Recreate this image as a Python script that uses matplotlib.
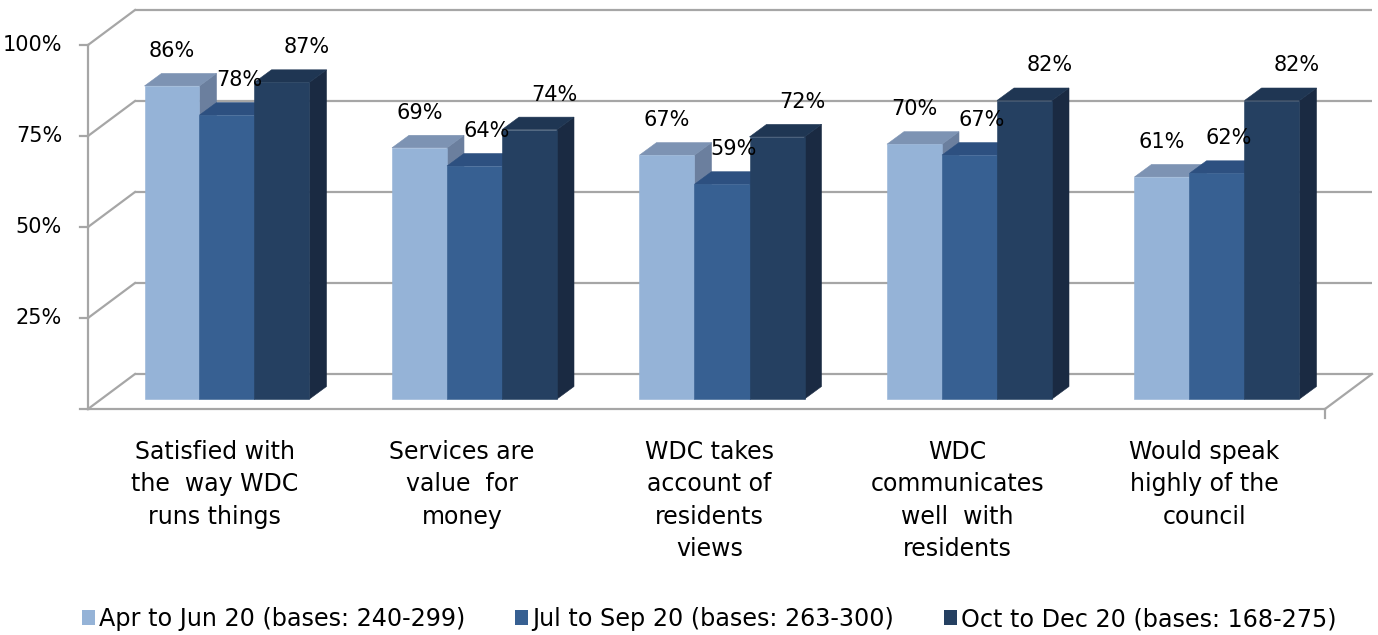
import matplotlib
matplotlib.use("Agg")
import matplotlib.pyplot as plt
from matplotlib.patches import Polygon, Patch

# ---------------- data ----------------
categories = [
    "Satisfied with\nthe  way WDC\nruns things",
    "Services are\nvalue  for\nmoney",
    "WDC takes\naccount of\nresidents\nviews",
    "WDC\ncommunicates\nwell  with\nresidents",
    "Would speak\nhighly of the\ncouncil",
]
series_names = [
    "Apr to Jun 20 (bases: 240-299)",
    "Jul to Sep 20 (bases: 263-300)",
    "Oct to Dec 20 (bases: 168-275)",
]
apr_jun = [86, 69, 67, 70, 61]
jul_sep = [78, 64, 59, 67, 62]
oct_dec = [87, 74, 72, 82, 82]
series_values = [apr_jun, jul_sep, oct_dec]
y_ticks = [25, 50, 75, 100]
y_tick_labels = ["25%", "50%", "75%", "100%"]

# ---------------- style ----------------
front_cols = ["#95B3D7", "#376092", "#254061"]
top_cols = ["#7D93B3", "#2D5080", "#1F3653"]
side_cols = ["#6B7F9E", "#284A75", "#1A2A42"]
grid_col = "#A6A6A6"
FONT = "DejaVu Sans"

W, H = 1378, 635
fig = plt.figure(figsize=(W / 100, H / 100), dpi=100)
ax = fig.add_axes([0, 0, 1, 1])
PX, PY = 247.5, 3.64  # pixels per data unit
X0, Y0 = 227, 409
ax.set_xlim(-X0 / PX, (W - X0) / PX)
ax.set_ylim((Y0 - H) / PY, Y0 / PY)
ax.axis("off")

# wall geometry (data units)
FX = (88 - X0) / PX          # front vertical axis
FXR = (1325 - X0) / PX       # front right end of floor
WDX, WDY = 47 / PX, 35 / PY  # depth offset of back wall
lw = 1.6

# back wall gridlines
for v in [0] + y_ticks:
    ax.plot([FX + WDX, FXR + WDX], [v + WDY, v + WDY], color=grid_col, lw=lw,
            solid_capstyle="butt", zorder=1)
# left side wall diagonals and front axis
for v in [0] + y_ticks:
    ax.plot([FX, FX + WDX], [v, v + WDY], color=grid_col, lw=lw, zorder=1)
    ax.plot([FX - 8 / PX, FX], [v, v], color=grid_col, lw=lw, zorder=1)
ax.plot([FX, FX], [0, 100], color=grid_col, lw=lw, zorder=1)
# floor
ax.plot([FX, FXR], [0, 0], color=grid_col, lw=lw, zorder=1)
ax.plot([FXR, FXR + WDX], [0, WDY], color=grid_col, lw=lw, zorder=1)
ax.plot([FXR, FXR], [0, -9 / PY], color=grid_col, lw=lw, zorder=1)

# y tick labels
for v, t in zip(y_ticks, y_tick_labels):
    ax.text(FX - 26 / PX, v, t, ha="right", va="center", fontsize=15,
            family=FONT, color="#000000")

# bars
bw = 55 / PX
BY0 = 0.286 * WDY
BDX, BDY = 17 / PX, 12.5 / PY
label_dx = [0, 12 / PX, 25 / PX]
z = 5
for i in range(len(categories)):
    for k in range(3):
        v = series_values[k][i]
        x0 = i - 1.5 * bw + k * bw
        x1 = x0 + bw
        y0 = BY0
        y1 = BY0 + v
        front = Polygon([(x0, y0), (x1, y0), (x1, y1), (x0, y1)], closed=True,
                        facecolor=front_cols[k], edgecolor=front_cols[k], lw=0.4, zorder=z)
        top = Polygon([(x0, y1), (x1, y1), (x1 + BDX, y1 + BDY), (x0 + BDX, y1 + BDY)],
                      closed=True, facecolor=top_cols[k], edgecolor=top_cols[k], lw=0.4, zorder=z)
        side = Polygon([(x1, y0), (x1 + BDX, y0 + BDY), (x1 + BDX, y1 + BDY), (x1, y1)],
                       closed=True, facecolor=side_cols[k], edgecolor=side_cols[k], lw=0.4, zorder=z)
        ax.add_patch(side)
        ax.add_patch(top)
        ax.add_patch(front)
        z += 1
        ax.text((x0 + x1) / 2 + label_dx[k], v + 12.4, f"{v}%", ha="center",
                va="center", fontsize=15, family=FONT, color="#000000", zorder=50)

# category labels
for i, c in enumerate(categories):
    ax.text(i - 0.05, (Y0 - 440) / PY, c, ha="center", va="top", fontsize=17,
            family=FONT, linespacing=1.44, color="#000000")

# legend
handles = [Patch(facecolor=front_cols[k], edgecolor="none") for k in range(3)]
fig.legend(handles, series_names, loc="center", bbox_to_anchor=(709 / W, 1 - 619 / H),
           ncol=3, frameon=False, prop={"family": FONT, "size": 17.2},
           handlelength=0.55, handleheight=0.55, handletextpad=0.15,
           columnspacing=2.1, borderpad=0)

fig.savefig("out.png", dpi=100)
